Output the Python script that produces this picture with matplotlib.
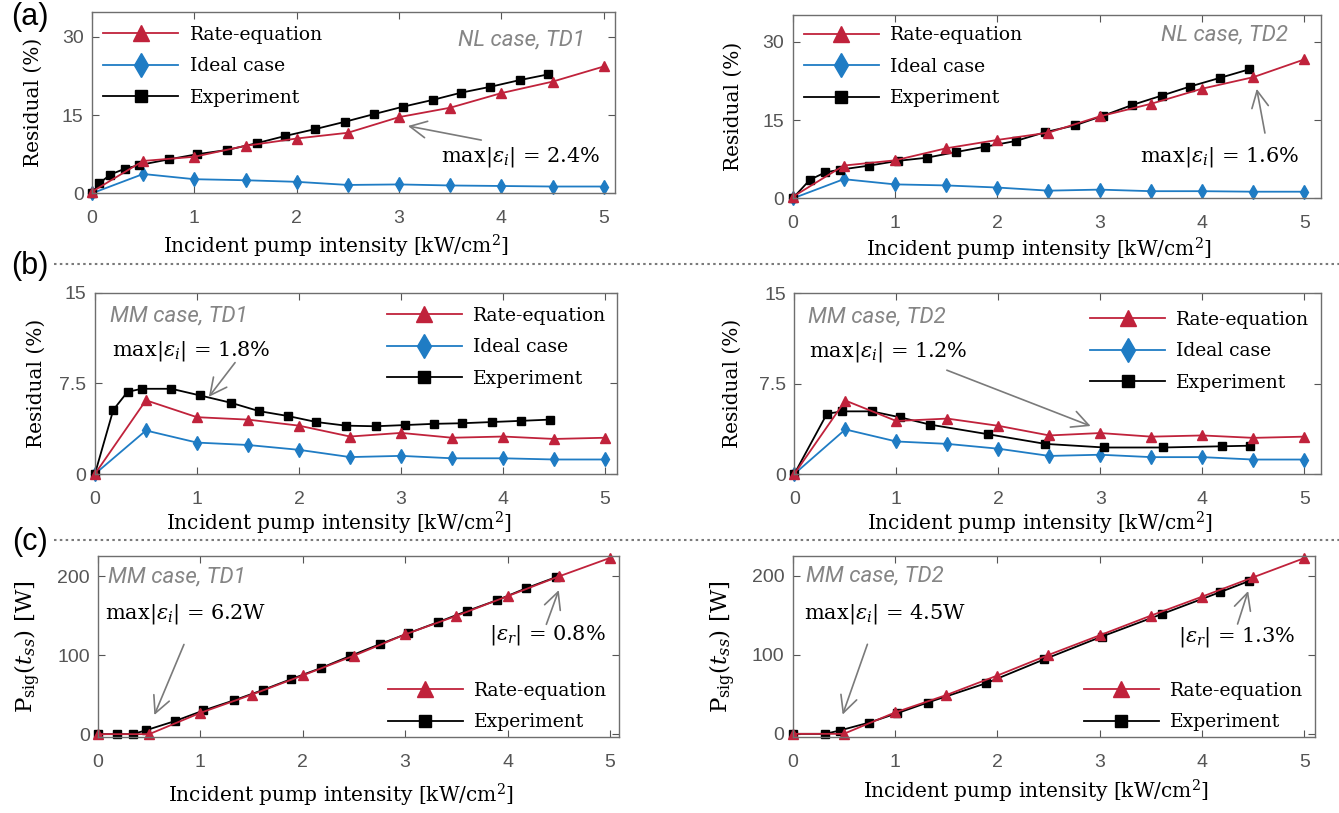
import matplotlib
matplotlib.use('Agg')
import matplotlib.pyplot as plt
from matplotlib.lines import Line2D

plt.rcParams['mathtext.fontset'] = 'dejavuserif'

# ---------------- data ----------------
x_model = [0, 0.5, 1, 1.5, 2, 2.5, 3, 3.5, 4, 4.5, 5]

# (a) NL case, TD1
a1_rate = [0.3, 6.2, 7.0, 9.1, 10.5, 11.6, 14.6, 16.4, 19.2, 21.4, 24.3]
a1_ideal = [0, 3.7, 2.7, 2.5, 2.2, 1.6, 1.7, 1.5, 1.4, 1.3, 1.3]
a1_exp_x = [0, 0.07, 0.18, 0.32, 0.46, 0.75, 1.03, 1.32, 1.61, 1.89, 2.18, 2.47,
            2.76, 3.04, 3.33, 3.61, 3.89, 4.18, 4.46]
a1_exp = [0, 1.9, 3.6, 4.7, 5.4, 6.5, 7.5, 8.3, 9.6, 11.0, 12.3, 13.7,
          15.2, 16.6, 17.9, 19.3, 20.4, 21.7, 22.8]

# (a) NL case, TD2
a2_rate = [0.3, 6.3, 7.3, 9.6, 11.2, 12.6, 15.7, 18.1, 21.0, 23.2, 26.6]
a2_ideal = [0, 3.7, 2.7, 2.5, 2.1, 1.5, 1.7, 1.4, 1.4, 1.3, 1.3]
a2_exp_x = [0, 0.17, 0.32, 0.46, 0.75, 1.03, 1.31, 1.6, 1.88, 2.18, 2.47,
            2.76, 3.03, 3.32, 3.61, 3.88, 4.18, 4.46]
a2_exp = [0, 3.6, 5.0, 5.5, 6.3, 7.2, 7.8, 8.9, 9.9, 11.0, 12.7,
          14.0, 15.8, 17.9, 19.7, 21.4, 23.1, 24.7]

# (b) MM case, TD1
b1_rate = [0, 6.1, 4.7, 4.5, 4.0, 3.1, 3.4, 3.0, 3.1, 2.9, 3.0]
b1_ideal = [0, 3.6, 2.6, 2.4, 2.0, 1.4, 1.5, 1.3, 1.3, 1.2, 1.2]
b1_exp_x = [0, 0.18, 0.32, 0.46, 0.75, 1.03, 1.33, 1.61, 1.89, 2.17, 2.46,
            2.75, 3.04, 3.32, 3.6, 3.89, 4.18, 4.46]
b1_exp = [0, 5.3, 6.8, 7.05, 7.05, 6.5, 5.9, 5.2, 4.8, 4.3, 4.0,
          3.95, 4.05, 4.15, 4.2, 4.3, 4.4, 4.5]

# (b) MM case, TD2
b2_rate = [0, 6.1, 4.4, 4.6, 4.0, 3.2, 3.4, 3.1, 3.2, 3.0, 3.1]
b2_ideal = [0, 3.7, 2.7, 2.5, 2.1, 1.5, 1.6, 1.4, 1.4, 1.2, 1.2]
b2_exp_x = [0, 0.32, 0.47, 0.76, 1.04, 1.33, 1.9, 2.46, 3.04, 3.61, 4.19, 4.47]
b2_exp = [0, 5.0, 5.2, 5.2, 4.7, 4.1, 3.3, 2.5, 2.2, 2.2, 2.3, 2.35]

# (c) MM case, TD1
c1_rate = [0, 0, 27, 50, 74.5, 99.5, 126.5, 150, 175, 200, 223.5]
c1_exp_x = [0, 0.19, 0.34, 0.47, 0.75, 1.03, 1.33, 1.61, 1.89, 2.18, 2.46,
            2.75, 3.03, 3.32, 3.6, 3.9, 4.18, 4.47]
c1_exp = [0, 0, 0, 5, 16.5, 30, 43, 56, 70, 84, 99,
          114, 128, 142, 156, 170, 185, 199]

# (c) MM case, TD2
c2_rate = [0, 0, 27, 49, 73.7, 99.8, 124.6, 149.5, 173.5, 198, 222.3]
c2_exp_x = [0, 0.32, 0.46, 0.75, 1.02, 1.32, 1.89, 2.46, 3.02, 3.61, 4.18, 4.46]
c2_exp = [0, 0, 4.2, 14.3, 26, 39.6, 64, 94.3, 123, 151.6, 179.4, 193.3]

xlabel = 'Incident pump intensity [kW/cm$^2$]'
red = '#C0223B'
blue = '#1F7CC4'
serif = 'DejaVu Serif'
tick_font = 'Liberation Sans'
case_grey = '#858585'

W, H = 1339, 813
fig = plt.figure(figsize=(W / 100, H / 100), dpi=100)


def px_axes(x0, x1, y0, y1):
    # axes rectangle from pixel edges of the reference
    return fig.add_axes([x0 / W, 1 - y1 / H, (x1 - x0) / W, (y1 - y0) / H])


def style(ax, xmax, ylim, yticks, ytl, xlab_y):
    ax.set_xlim(0, xmax)
    ax.set_ylim(*ylim)
    ax.set_xticks([0, 1, 2, 3, 4, 5])
    ax.set_yticks(yticks)
    ax.set_yticklabels(ytl)
    ax.tick_params(direction='in', top=True, right=True, length=5,
                   color='#555555', labelcolor='#555555', labelsize=14)
    ax.tick_params(axis='x', pad=12)
    ax.tick_params(axis='y', pad=6)
    for lab in ax.get_xticklabels() + ax.get_yticklabels():
        lab.set_family(tick_font)
    for s in ax.spines.values():
        s.set_color('#6e6e6e')
        s.set_linewidth(1.0)
    ax.set_xlabel(xlabel, family=serif, fontsize=14.5, va='center')
    # the reference labels sit a little left of the axes centre
    ax.xaxis.set_label_coords(0.466, xlab_y)


def draw(ax, rate, exp_x, exp, ideal=None):
    h_ideal = None
    if ideal is not None:
        h_ideal, = ax.plot(x_model, ideal, '-d', color=blue, lw=1.3, ms=7.5,
                           mec=blue, clip_on=False, label='Ideal case')
    h_exp, = ax.plot(exp_x, exp, '-s', color='black', lw=1.3, ms=5.5,
                     clip_on=False, label='Experiment')
    h_rate, = ax.plot(x_model, rate, '-^', color=red, lw=1.3, ms=7,
                      clip_on=False, label='Rate-equation')
    if ideal is not None:
        return [h_rate, h_ideal, h_exp]
    return [h_rate, h_exp]


def legend(ax, handles, loc, anchor):
    ax.legend(handles=handles, loc=loc, bbox_to_anchor=anchor, frameon=False,
              prop={'family': serif, 'size': 13.5}, handlelength=4.0,
              handletextpad=0.6, labelspacing=0.72, markerscale=1.6,
              borderaxespad=0.2)


def case(ax, x, y, s, ha):
    ax.text(x, y, s, ha=ha, va='center', family='Roboto', style='italic',
            fontsize=16, color=case_grey)


def note(ax, x, y, s):
    ax.text(x, y, s, ha='center', va='center', family=serif, fontsize=15)


def arrow(ax, head, tail):
    ax.annotate('', xy=head, xytext=tail,
                arrowprops=dict(arrowstyle='->', color='#7a7a7a', lw=1.2,
                                mutation_scale=30))


# (a) left
ax = px_axes(92, 615, 11.7, 193.3)
hs = draw(ax, a1_rate, a1_exp_x, a1_exp, a1_ideal)
style(ax, 5.11, (0, 34.8), [0, 15, 30], ['0', '15', '30'], -0.29)
ax.set_ylabel('Residual (%)', family=serif, fontsize=14.5, labelpad=14)
legend(ax, hs, 'upper left', (0.0, 0.985))
case(ax, 4.82, 29.4, 'NL case, TD1', 'right')
note(ax, 4.19, 6.9, r'max$|\varepsilon_i|$ = 2.4%')
arrow(ax, (3.06, 13.0), (3.83, 10.1))

# (a) right
ax = px_axes(792.6, 1320.7, 15, 198.5)
hs = draw(ax, a2_rate, a2_exp_x, a2_exp, a2_ideal)
style(ax, 5.16, (0, 35.1), [0, 15, 30], ['0', '15', '30'], -0.275)
ax.set_ylabel('Residual (%)', family=serif, fontsize=14.5, labelpad=14)
legend(ax, hs, 'upper left', (0.0, 1.0))
case(ax, 4.84, 31.2, 'NL case, TD2', 'right')
note(ax, 4.17, 7.9, r'max$|\varepsilon_i|$ = 1.6%')
arrow(ax, (4.53, 21.5), (4.62, 12.0))

# (b) left
ax = px_axes(94.9, 617.4, 292.7, 474)
hs = draw(ax, b1_rate, b1_exp_x, b1_exp, b1_ideal)
style(ax, 5.12, (0, 15), [0, 7.5, 15], ['0', '7.5', '15'], -0.27)
ax.set_ylabel('Residual (%)', family=serif, fontsize=14.5, labelpad=10)
legend(ax, hs, 'upper right', (1.0, 0.985))
case(ax, 0.15, 13.1, 'MM case, TD1', 'left')
note(ax, 0.94, 10.15, r'max$|\varepsilon_i|$ = 1.8%')
arrow(ax, (1.10, 6.2), (1.39, 9.4))

# (b) right
ax = px_axes(794.3, 1320.7, 293.3, 474)
hs = draw(ax, b2_rate, b2_exp_x, b2_exp, b2_ideal)
style(ax, 5.16, (0, 15), [0, 7.5, 15], ['0', '7.5', '15'], -0.275)
ax.set_ylabel('Residual (%)', family=serif, fontsize=14.5, labelpad=12)
legend(ax, hs, 'upper right', (1.0, 0.965))
case(ax, 0.13, 13.0, 'MM case, TD2', 'left')
note(ax, 0.92, 10.15, r'max$|\varepsilon_i|$ = 1.2%')
arrow(ax, (2.93, 3.9), (1.47, 8.7))

# (c) left
ax = px_axes(98, 618.6, 556, 737.3)
hs = draw(ax, c1_rate, c1_exp_x, c1_exp)
style(ax, 5.085, (-4, 226), [0, 100, 200], ['0', '100', '200'], -0.318)
ax.set_ylabel(r'$\mathrm{P}_{\mathrm{sig}}(t_{ss})$ [W]', family=serif,
              fontsize=16.5, labelpad=10)
legend(ax, hs, 'lower right', (1.0, -0.03))
case(ax, 0.10, 200, 'MM case, TD1', 'left')
note(ax, 0.86, 152.5, r'max$|\varepsilon_i|$ = 6.2W')
note(ax, 4.39, 126, r'$|\varepsilon_r|$ = 0.8%')
arrow(ax, (0.54, 21), (0.85, 117))
arrow(ax, (4.51, 186), (4.37, 136))

# (c) right
ax = px_axes(792.6, 1314.5, 556, 737)
hs = draw(ax, c2_rate, c2_exp_x, c2_exp)
style(ax, 5.1, (-4, 225), [0, 100, 200], ['0', '100', '200'], -0.3)
ax.set_ylabel(r'$\mathrm{P}_{\mathrm{sig}}(t_{ss})$ [W]', family=serif,
              fontsize=16.5, labelpad=10)
legend(ax, hs, 'lower right', (1.0, -0.03))
case(ax, 0.13, 200, 'MM case, TD2', 'left')
note(ax, 0.90, 151.6, r'max$|\varepsilon_i|$ = 4.5W')
note(ax, 4.34, 123, r'$|\varepsilon_r|$ = 1.3%')
arrow(ax, (0.48, 21), (0.74, 116.6))
arrow(ax, (4.46, 184), (4.34, 135.6))

# panel letters and dotted separators
for lab, yc in [('(a)', 17), ('(b)', 266), ('(c)', 542)]:
    fig.text(30 / W, 1 - yc / H, lab, ha='center', va='center',
             family='Liberation Sans', fontsize=22)
for yc in [264, 540]:
    fig.add_artist(Line2D([54 / W, 1.0], [1 - yc / H, 1 - yc / H],
                          transform=fig.transFigure, color='#7a7a7a',
                          lw=1.5, ls=(0, (1.2, 1.6))))

fig.savefig('out.png', dpi=100)
